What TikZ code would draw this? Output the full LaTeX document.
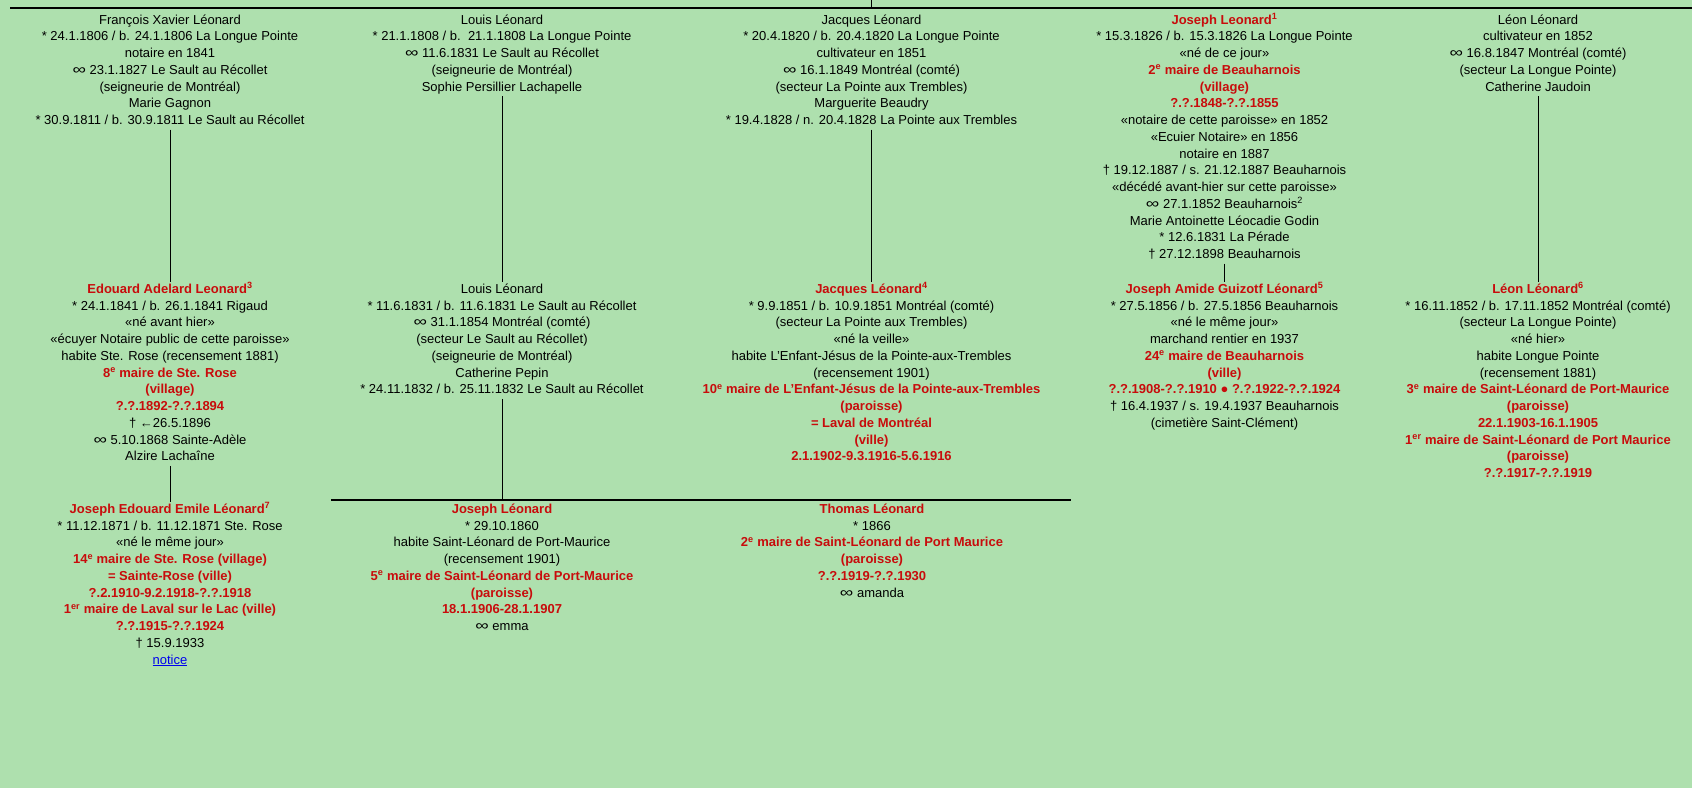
\documentclass[tikz,border=0pt]{standalone}
\usepackage{fontspec}
\setmainfont{Liberation Sans}
\definecolor{bg}{RGB}{174,224,174}
\definecolor{rd}{RGB}{200,12,12}
\definecolor{lk}{RGB}{0,0,238}
\newcommand{\redt}[1]{{\color{rd}\bfseries #1}}
\newcommand{\sps}[1]{\textsuperscript{#1}}
\newcommand{\mar}{\scalebox{1.45}[1.1]{∞}}
\begin{document}
\begin{tikzpicture}[x=1pt,y=-1pt,
  person/.style={align=center, inner sep=0pt, outer sep=0pt, anchor=north, text=black,
    font=\fontsize{13}{16.75}\selectfont},
  link/.style={line width=1pt, draw=black},
  bar/.style={line width=2pt, draw=black}]
\fill[bg] (0,0) rectangle (1692,788);
\useasboundingbox (0,0) rectangle (1692,788);

% top bar
\coordinate (ts) at (871,0);
\coordinate (tj) at (871,8);
\coordinate (tl) at (10,8);
\coordinate (tr) at (1692,8);
\draw[bar] (tl) -- (tr);
\draw[link] (ts) -- (tj);

% row 1
\node[person] (fx) at (170,12.3) {\strut François Xavier Léonard\\
* 24.1.1806 / b. 24.1.1806 La Longue Pointe\\
notaire en 1841\\
\mar{} 23.1.1827 Le Sault au Récollet\\
(seigneurie de Montréal)\\
Marie Gagnon\\
* 30.9.1811 / b. 30.9.1811 Le Sault au Récollet\strut};

\node[person] (lo1) at (502,12.3) {\strut Louis Léonard\\
* 21.1.1808 / b.\ \ 21.1.1808 La Longue Pointe\\
\mar{} 11.6.1831 Le Sault au Récollet\\
(seigneurie de Montréal)\\
Sophie Persillier Lachapelle\strut};

\node[person] (ja1) at (871.5,12.3) {\strut Jacques Léonard\\
* 20.4.1820 / b. 20.4.1820 La Longue Pointe\\
cultivateur en 1851\\
\mar{} 16.1.1849 Montréal (comté)\\
(secteur La Pointe aux Trembles)\\
Marguerite Beaudry\\
* 19.4.1828 / n. 20.4.1828 La Pointe aux Trembles\strut};

\node[person] (jo1) at (1224.5,12.3) {\strut\redt{Joseph Leonard\sps{1}}\\
* 15.3.1826 / b. 15.3.1826 La Longue Pointe\\
«né de ce jour»\\
\redt{2\sps{e} maire de Beauharnois}\\
\redt{(village)}\\
\redt{?.?.1848-?.?.1855}\\
«notaire de cette paroisse» en 1852\\
«Ecuier Notaire» en 1856\\
notaire en 1887\\
† 19.12.1887 / s. 21.12.1887 Beauharnois\\
«décédé avant-hier sur cette paroisse»\\
\mar{} 27.1.1852 Beauharnois\sps{2}\\
Marie Antoinette Léocadie Godin\\
* 12.6.1831 La Pérade\\
† 27.12.1898 Beauharnois\strut};

\node[person] (le1) at (1538,12.3) {\strut Léon Léonard\\
cultivateur en 1852\\
\mar{} 16.8.1847 Montréal (comté)\\
(secteur La Longue Pointe)\\
Catherine Jaudoin\strut};

% row 2
\node[person] (ed) at (170,281.6) {\strut\redt{Edouard Adelard Leonard\sps{3}}\\
* 24.1.1841 / b. 26.1.1841 Rigaud\\
«né avant hier»\\
«écuyer Notaire public de cette paroisse»\\
habite Ste. Rose (recensement 1881)\\
\redt{8\sps{e} maire de Ste. Rose}\\
\redt{(village)}\\
\redt{?.?.1892-?.?.1894}\\
† ←26.5.1896\\
\mar{} 5.10.1868 Sainte-Adèle\\
Alzire Lachaîne\strut};

\node[person] (lo2) at (502,281.6) {\strut Louis Léonard\\
* 11.6.1831 / b. 11.6.1831 Le Sault au Récollet\\
\mar{} 31.1.1854 Montréal (comté)\\
(secteur Le Sault au Récollet)\\
(seigneurie de Montréal)\\
Catherine Pepin\\
* 24.11.1832 / b. 25.11.1832 Le Sault au Récollet\strut};

\node[person] (ja2) at (871.5,281.6) {\strut\redt{Jacques Léonard\sps{4}}\\
* 9.9.1851 / b. 10.9.1851 Montréal (comté)\\
(secteur La Pointe aux Trembles)\\
«né la veille»\\
habite L’Enfant-Jésus de la Pointe-aux-Trembles\\
(recensement 1901)\\
\redt{10\sps{e} maire de L’Enfant-Jésus de la Pointe-aux-Trembles}\\
\redt{(paroisse)}\\
\redt{= Laval de Montréal}\\
\redt{(ville)}\\
\redt{2.1.1902-9.3.1916-5.6.1916}\strut};

\node[person] (jo2) at (1224.5,281.6) {\strut\redt{Joseph Amide Guizotf Léonard\sps{5}}\\
* 27.5.1856 / b. 27.5.1856 Beauharnois\\
«né le même jour»\\
marchand rentier en 1937\\
\redt{24\sps{e} maire de Beauharnois}\\
\redt{(ville)}\\
\redt{?.?.1908-?.?.1910 ● ?.?.1922-?.?.1924}\\
† 16.4.1937 / s. 19.4.1937 Beauharnois\\
(cimetière Saint-Clément)\strut};

\node[person] (le2) at (1538,281.6) {\strut\redt{Léon Léonard\sps{6}}\\
* 16.11.1852 / b. 17.11.1852 Montréal (comté)\\
(secteur La Longue Pointe)\\
«né hier»\\
habite Longue Pointe\\
(recensement 1881)\\
\redt{3\sps{e} maire de Saint-Léonard de Port-Maurice}\\
\redt{(paroisse)}\\
\redt{22.1.1903-16.1.1905}\\
\redt{1\sps{er} maire de Saint-Léonard de Port Maurice}\\
\redt{(paroisse)}\\
\redt{?.?.1917-?.?.1919}\strut};

% row 3
\node[person] (je) at (170,501.6) {\strut\redt{Joseph Edouard Emile Léonard\sps{7}}\\
* 11.12.1871 / b. 11.12.1871 Ste. Rose\\
«né le même jour»\\
\redt{14\sps{e} maire de Ste. Rose (village)}\\
\redt{= Sainte-Rose (ville)}\\
\redt{?.2.1910-9.2.1918-?.?.1918}\\
\redt{1\sps{er} maire de Laval sur le Lac (ville)}\\
\redt{?.?.1915-?.?.1924}\\
† 15.9.1933\\
{\color{lk}\underline{notice}}\strut};

\node[person] (jl) at (502,501.6) {\strut\redt{Joseph Léonard}\\
* 29.10.1860\\
habite Saint-Léonard de Port-Maurice\\
(recensement 1901)\\
\redt{5\sps{e} maire de Saint-Léonard de Port-Maurice}\\
\redt{(paroisse)}\\
\redt{18.1.1906-28.1.1907}\\
\mar{} emma\strut};

\node[person] (tl3) at (872,501.6) {\strut\redt{Thomas Léonard}\\
* 1866\\
\redt{2\sps{e} maire de Saint-Léonard de Port Maurice}\\
\redt{(paroisse)}\\
\redt{?.?.1919-?.?.1930}\\
\mar{} amanda\strut};

% connectors
\draw[link] (fx.south) -- (ed.north);
\draw[link] (lo1.south) -- (lo2.north);
\draw[link] (ja1.south) -- (ja2.north);
\draw[link] (jo1.south) -- (jo2.north);
\draw[link] (le1.south) -- (le2.north);
\draw[link] (ed.south) -- (je.north);

\coordinate (hl) at (331,500);
\coordinate (hr) at (1071,500);
\coordinate (hj) at (502,500);
\draw[bar] (hl) -- (hr);
\draw[link] (lo2.south) -- (hj);
\end{tikzpicture}
\end{document}
